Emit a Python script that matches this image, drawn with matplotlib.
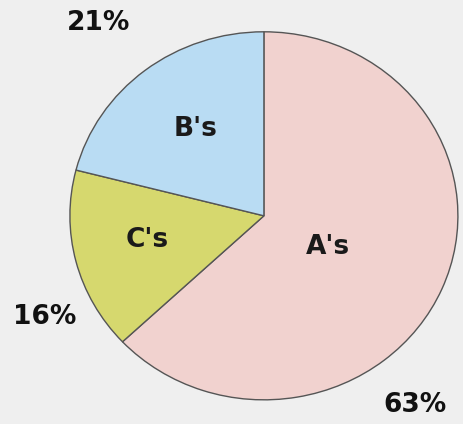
import matplotlib.pyplot as plt

# slice data (clockwise from 12 o'clock)
names = ["A's", "C's", "B's"]
shares = [63, 16, 21]
colors = ["#f1d2cf", "#d6d86e", "#b9dcf3"]

# where the text goes (axes data units, pie radius = 1)
name_pos = [(0.33, -0.17), (-0.60, -0.13), (-0.35, 0.47)]
pct_pos = [(0.78, -1.03), (-1.13, -0.55), (-0.85, 1.05)]

fig = plt.figure(figsize=(4.63, 4.24), dpi=100)
fig.patch.set_facecolor("#efefef")
ax = fig.add_axes([0.151, 0.057, 0.838, 0.868])

ax.pie(shares, colors=colors, startangle=90, counterclock=False,
       wedgeprops=dict(edgecolor="#555555", linewidth=1.0))
ax.set_aspect("auto")
ax.set_xlim(-1, 1)
ax.set_ylim(-1, 1)

for n, (x, y) in zip(names, name_pos):
    ax.text(x, y, n, ha="center", va="center", fontsize=19,
            fontweight="bold", color="#1a1a1a")

for s, (x, y) in zip(shares, pct_pos):
    ax.text(x, y, f"{s}%", ha="center", va="center", fontsize=19,
            fontweight="bold", color="#111111", clip_on=False)

fig.savefig("out.png", dpi=100, facecolor=fig.get_facecolor())
